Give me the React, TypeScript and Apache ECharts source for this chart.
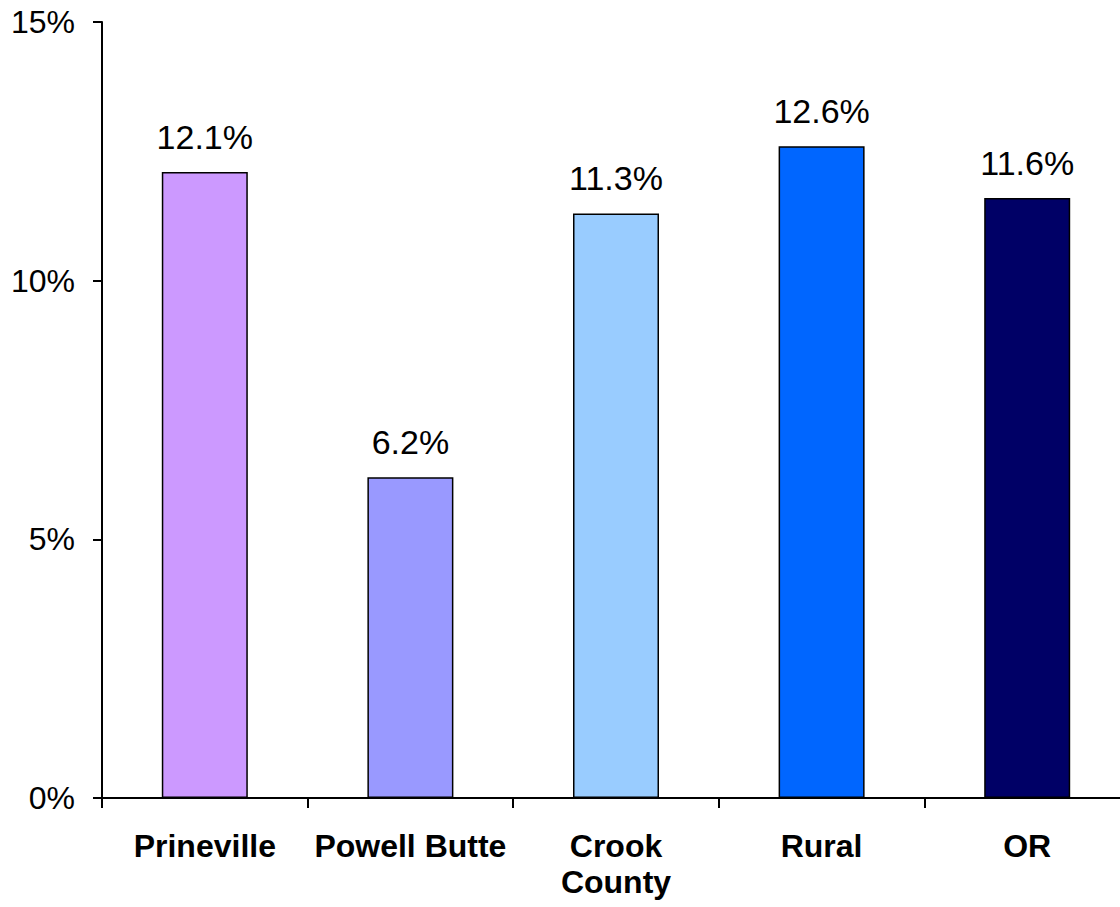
import React, { useEffect, useRef } from "react";
import * as echarts from "echarts";

const categories = ["Prineville", "Powell Butte", "Crook\nCounty", "Rural", "OR"];
const values = [12.1, 6.2, 11.3, 12.6, 11.6];
const barColors = ["#CC99FF", "#9999FF", "#99CCFF", "#0066FF", "#000066"];
const yTicks = { min: 0, max: 15, interval: 5 };

export default function App() {
  const ref = useRef<HTMLDivElement>(null);
  useEffect(() => {
    if (!ref.current) return;
    const chart = echarts.init(ref.current, null, { renderer: "svg" });
    const font = "Arial, 'Liberation Sans', sans-serif";
    chart.setOption({
      animation: false,
      backgroundColor: "#ffffff",
      grid: { left: 102, top: 22, width: 1028, height: 776, containLabel: false },
      xAxis: {
        type: "category",
        data: categories,
        boundaryGap: true,
        axisLine: { show: true, lineStyle: { color: "#000", width: 2 } },
        axisTick: { show: true, length: 10, alignWithLabel: false, lineStyle: { color: "#000", width: 2 } },
        axisLabel: {
          color: "#000",
          fontFamily: font,
          fontSize: 32,
          fontWeight: "bold",
          lineHeight: 36,
          margin: 30,
          interval: 0,
        },
        splitLine: { show: false },
      },
      yAxis: {
        type: "value",
        min: yTicks.min,
        max: yTicks.max,
        interval: yTicks.interval,
        axisLine: { show: true, lineStyle: { color: "#000", width: 2 } },
        axisTick: { show: true, length: 9, inside: false, lineStyle: { color: "#000", width: 2 } },
        axisLabel: {
          color: "#000",
          fontFamily: font,
          fontSize: 32,
          margin: 27,
          formatter: (v: number) => `${v}%`,
        },
        splitLine: { show: false },
      },
      series: [
        {
          type: "bar",
          barWidth: 86,
          data: values.map((v, i) => ({
            value: v,
            itemStyle: { color: barColors[i], borderColor: "#000", borderWidth: 1.5 },
          })),
          label: {
            show: true,
            position: "top",
            distance: 18,
            color: "#000",
            fontFamily: font,
            fontSize: 34,
            formatter: (p: any) => `${Number(p.value).toFixed(1)}%`,
          },
        },
      ],
    });
    return () => chart.dispose();
  }, []);
  return (
    <div
      ref={ref}
      style={{ position: "fixed", left: 0, top: 0, width: 1131, height: 907 }}
    />
  );
}
